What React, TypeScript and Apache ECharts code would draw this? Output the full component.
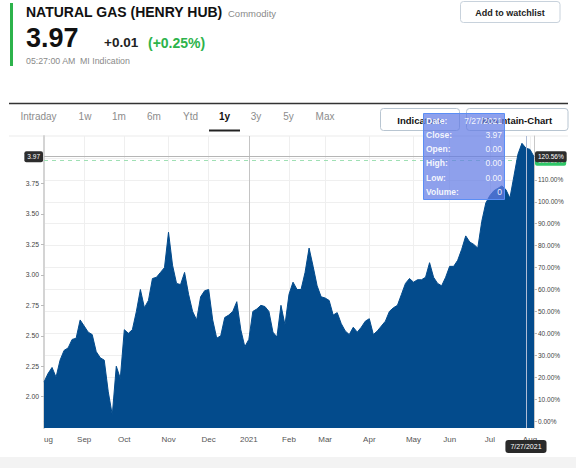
import React, { useEffect, useRef } from 'react';
import * as echarts from 'echarts';

const closes = [
  2.12, 2.19, 2.24, 2.16, 2.30, 2.38, 2.40, 2.47, 2.48, 2.63,
  2.58, 2.53, 2.51, 2.37, 2.32, 2.30, 2.04, 1.85, 2.25, 2.15,
  2.55, 2.52, 2.55, 2.70, 2.88, 2.73, 2.79, 2.97, 2.98, 3.02,
  3.06, 3.35, 3.08, 2.93, 2.92, 3.02, 2.84, 2.70, 2.63, 2.82,
  2.87, 2.88, 2.63, 2.48, 2.50, 2.65, 2.67, 2.70, 2.78, 2.55,
  2.41, 2.47, 2.70, 2.72, 2.75, 2.74, 2.70, 2.53, 2.49, 2.75,
  2.59, 2.84, 2.94, 2.88, 2.88, 3.02, 3.22, 3.07, 2.91, 2.82,
  2.81, 2.79, 2.67, 2.69, 2.60, 2.54, 2.51, 2.57, 2.53, 2.57,
  2.62, 2.64, 2.51, 2.54, 2.58, 2.62, 2.70, 2.73, 2.75, 2.84,
  2.93, 2.97, 2.94, 2.96, 2.96, 2.98, 3.10, 2.98, 2.93, 2.91,
  2.98, 3.07, 3.07, 3.12, 3.21, 3.32, 3.27, 3.25, 3.22, 3.44,
  3.59, 3.65, 3.69, 3.71, 3.73, 3.70, 3.63, 3.81, 3.99, 4.08,
  4.04, 4.03, 3.97,
];
const categories = closes.map((_, i) => `d${i}`);

const monthTickIdx = [0, 10, 20, 31, 41, 51, 61, 70, 81, 92, 101, 111, 121];
const monthTickLabels = ['ug', 'Sep', 'Oct', 'Nov', 'Dec', '2021', 'Feb', 'Mar', 'Apr', 'May', 'Jun', 'Jul', 'Aug'];
const yearStartIdx = 51;
const cursorIdx = 120;
const cursorDate = '7/27/2021';

const priceTicks = [2.0, 2.25, 2.5, 2.75, 3.0, 3.25, 3.5, 3.75];
const pctTicks = [0, 10, 20, 30, 40, 50, 60, 70, 80, 90, 100, 110, 120, 130];
const pctLabelTicks = [0, 10, 20, 30, 40, 50, 60, 70, 80, 90, 100, 110];
const basePrice = 1.8;
const priceMin = 1.743;
const priceMax = 4.14;
const lastClose = 3.97;
const prevLine = 3.94;

const tabs = ['Intraday', '1w', '1m', '6m', 'Ytd', '1y', '3y', '5y', 'Max'];
const tabX = [38.5, 85, 119, 154, 190.5, 224.5, 256, 288.5, 325];
const tipLabels = ['Date:', 'Close:', 'Open:', 'High:', 'Low:', 'Volume:'];
const tipValues = [cursorDate, '3.97', '0.00', '0.00', '0.00', '0'];

const FONT = "'Liberation Sans', Arial, Helvetica, sans-serif";
const AREA = '#034b8c';
const CLEAR = 'rgba(0,0,0,0)';

const pct = (p: number) => (p / basePrice - 1) * 100;

export default function App() {
  const ref = useRef<HTMLDivElement>(null);
  useEffect(() => {
    if (!ref.current) return;
    const chart = echarts.init(ref.current, null, { renderer: 'svg' });
    const tickSet = new Set(monthTickIdx);
    const labelMap: Record<number, string> = {};
    monthTickIdx.forEach((i, k) => (labelMap[i] = monthTickLabels[k]));

    const graphic: any[] = [];
    // header
    graphic.push({ type: 'rect', shape: { x: 10, y: 3, width: 3, height: 63 }, style: { fill: '#2db34b' } });
    graphic.push({ type: 'text', x: 26, y: 12, style: { text: 'NATURAL GAS (HENRY HUB)', fontFamily: FONT, fontWeight: 'bold', fontSize: 14, fill: '#111', verticalAlign: 'middle' } });
    graphic.push({ type: 'text', x: 228, y: 13.5, style: { text: 'Commodity', fontFamily: FONT, fontSize: 9.5, fill: '#8a8a8a', verticalAlign: 'middle' } });
    graphic.push({ type: 'text', x: 26, y: 38, style: { text: '3.97', fontFamily: FONT, fontWeight: 'bold', fontSize: 27, fill: '#111', verticalAlign: 'middle' } });
    graphic.push({ type: 'text', x: 104, y: 42.5, style: { text: '+0.01', fontFamily: FONT, fontWeight: 'bold', fontSize: 13.5, fill: '#222', verticalAlign: 'middle' } });
    graphic.push({ type: 'text', x: 148, y: 42.5, style: { text: '(+0.25%)', fontFamily: FONT, fontWeight: 'bold', fontSize: 14, fill: '#2db34b', verticalAlign: 'middle' } });
    graphic.push({ type: 'text', x: 26, y: 61, style: { text: '05:27:00 AM', fontFamily: FONT, fontSize: 8.8, fill: '#8a8a8a', verticalAlign: 'middle' } });
    graphic.push({ type: 'text', x: 80, y: 61, style: { text: 'MI Indication', fontFamily: FONT, fontSize: 8.8, fill: '#8a8a8a', verticalAlign: 'middle' } });
    // watchlist button
    graphic.push({ type: 'rect', shape: { x: 460.5, y: 1.5, width: 99.5, height: 21, r: 3 }, style: { fill: '#fff', stroke: '#c8d2dc', lineWidth: 1 } });
    graphic.push({ type: 'text', x: 510, y: 12.5, style: { text: 'Add to watchlist', fontFamily: FONT, fontWeight: 'bold', fontSize: 9, fill: '#222', align: 'center', verticalAlign: 'middle' } });
    // tab bar
    graphic.push({ type: 'rect', shape: { x: 9, y: 102.8, width: 559, height: 1.5 }, style: { fill: '#333' } });
    tabs.forEach((t, i) => {
      graphic.push({ type: 'text', x: tabX[i], y: 116, style: { text: t, fontFamily: FONT, fontSize: 10, fontWeight: t === '1y' ? 'bold' : 'normal', fill: t === '1y' ? '#111' : '#8c8c8c', align: 'center', verticalAlign: 'middle' } });
    });
    graphic.push({ type: 'rect', shape: { x: 209, y: 129.5, width: 31, height: 2 }, style: { fill: '#222' } });
    graphic.push({ type: 'rect', shape: { x: 380.5, y: 108.5, width: 79, height: 22, r: 3 }, style: { fill: '#fff', stroke: '#b8c5d1', lineWidth: 1 } });
    graphic.push({ type: 'text', x: 420, y: 120, style: { text: 'Indicators', fontFamily: FONT, fontWeight: 'bold', fontSize: 9.5, fill: '#111', align: 'center', verticalAlign: 'middle' } });
    graphic.push({ type: 'rect', shape: { x: 466.5, y: 108.5, width: 101.5, height: 22, r: 3 }, style: { fill: '#fff', stroke: '#b8c5d1', lineWidth: 1 } });
    graphic.push({ type: 'text', x: 517, y: 120, style: { text: 'Mountain-Chart', fontFamily: FONT, fontWeight: 'bold', fontSize: 9.5, fill: '#111', align: 'center', verticalAlign: 'middle' } });
    graphic.push({ type: 'rect', shape: { x: 9, y: 135.5, width: 559, height: 1 }, style: { fill: '#ececec' } });
    // bottom band
    graphic.push({ type: 'rect', shape: { x: 0, y: 457, width: 576, height: 11 }, style: { fill: '#f3f3f3' } });
    // tooltip box (on top of everything)
    graphic.push({ type: 'rect', z: 100, shape: { x: 423.5, y: 113.5, width: 81, height: 86 }, style: { fill: 'rgba(98,124,228,0.72)', stroke: '#5b8ef5', lineWidth: 1 } });
    tipLabels.forEach((l, i) => {
      const y = 120.5 + i * 14.3;
      graphic.push({ type: 'text', z: 101, x: 426, y, style: { text: l, fontFamily: FONT, fontWeight: 'bold', fontSize: 8.5, fill: 'rgba(255,255,255,0.92)', verticalAlign: 'middle' } });
      graphic.push({ type: 'text', z: 101, x: 502, y, style: { text: tipValues[i], fontFamily: FONT, fontSize: 8.5, fill: 'rgba(255,255,255,0.92)', align: 'right', verticalAlign: 'middle' } });
    });

    const badge = (bg: string, fs = 6.5) => ({
      show: true,
      color: '#fff',
      backgroundColor: bg,
      borderRadius: 2,
      padding: [2, 3],
      fontSize: fs,
      fontFamily: FONT,
    });

    const option: any = {
      animation: false,
      backgroundColor: '#ffffff',
      textStyle: { fontFamily: FONT },
      graphic,
      grid: { left: 44, right: 42, top: 136, bottom: 40, containLabel: false },
      xAxis: {
        type: 'category',
        data: categories,
        boundaryGap: false,
        axisLine: { show: true, lineStyle: { color: '#c6c6c6', width: 1 } },
        axisTick: { show: true, interval: (i: number) => tickSet.has(i), length: 4, lineStyle: { color: '#b5b5b5' } },
        axisLabel: {
          interval: (i: number) => tickSet.has(i),
          formatter: (_v: string, i: number) => labelMap[i] ?? '',
          fontSize: 8,
          color: '#555',
          margin: 7,
          alignMinLabel: 'left',
        },
        splitLine: { show: true, interval: (i: number) => tickSet.has(i) && i !== 0, lineStyle: { color: '#efefef', width: 1 } },
      },
      yAxis: [
        {
          type: 'value',
          position: 'left',
          min: priceMin,
          max: priceMax,
          axisLine: { show: true, lineStyle: { color: '#d4d4d4', width: 2 } },
          axisTick: { show: true, customValues: priceTicks, length: 3, lineStyle: { color: '#bbb' } },
          axisLabel: { customValues: priceTicks, formatter: (v: number) => v.toFixed(2), fontSize: 6.8, color: '#444', margin: 5 },
          splitLine: { show: false },
        },
        {
          type: 'value',
          position: 'right',
          min: pct(priceMin),
          max: pct(priceMax),
          axisLine: { show: true, lineStyle: { color: '#c8c8c8', width: 1 } },
          axisTick: { show: true, customValues: pctTicks, length: 3, lineStyle: { color: '#bbb' } },
          axisLabel: { customValues: pctLabelTicks, formatter: (v: number) => v.toFixed(2) + '%', fontSize: 6.5, color: '#444', margin: 4 },
          splitLine: { show: true, lineStyle: { color: '#efefef', width: 1 } },
        },
      ],
      series: [
        {
          // reference lines drawn beneath the mountain
          type: 'line',
          data: closes,
          symbol: 'none',
          silent: true,
          z: 1,
          lineStyle: { opacity: 0 },
          markLine: {
            z: 1,
            silent: true,
            symbol: ['none', 'none'],
            animation: false,
            label: { show: false },
            data: [
              { xAxis: yearStartIdx, lineStyle: { color: '#c4c4c4', type: 'solid', width: 1 } },
              { yAxis: prevLine, lineStyle: { color: '#9fe0b4', type: [4, 4], width: 1.2 } },
              { yAxis: lastClose, lineStyle: { color: '#b5b5b5', type: 'solid', width: 1 } },
            ],
          },
        },
        {
          type: 'line',
          data: closes,
          symbol: 'none',
          z: 2,
          lineStyle: { color: AREA, width: 1 },
          areaStyle: { color: AREA, opacity: 1 },
          markLine: {
            silent: true,
            symbol: ['none', 'none'],
            animation: false,
            data: [
              { xAxis: cursorIdx, lineStyle: { color: '#aebcd6', type: 'solid', width: 1 },
                label: { ...badge('#2a2a2a', 7), position: 'start', distance: 12, padding: [3, 5], borderRadius: 3, formatter: cursorDate } },
              { yAxis: prevLine, lineStyle: { color: CLEAR, type: 'solid', width: 1 },
                label: { ...badge('#2fc768'), position: 'end', distance: 1, formatter: pct(prevLine).toFixed(2) + '%' } },
              { yAxis: lastClose, lineStyle: { color: CLEAR, type: 'solid', width: 1 },
                label: { ...badge('#2d2d2d'), position: 'start', distance: 1, formatter: lastClose.toFixed(2) } },
              { yAxis: lastClose, lineStyle: { color: CLEAR, type: 'solid', width: 1 },
                label: { ...badge('#2d2d2d'), position: 'end', distance: 1, formatter: pct(lastClose).toFixed(2) + '%' } },
            ],
          },
        },
      ],
    };
    chart.setOption(option);
    return () => chart.dispose();
  }, []);
  return <div ref={ref} style={{ position: 'absolute', left: 0, top: 0, width: 576, height: 468 }} />;
}
